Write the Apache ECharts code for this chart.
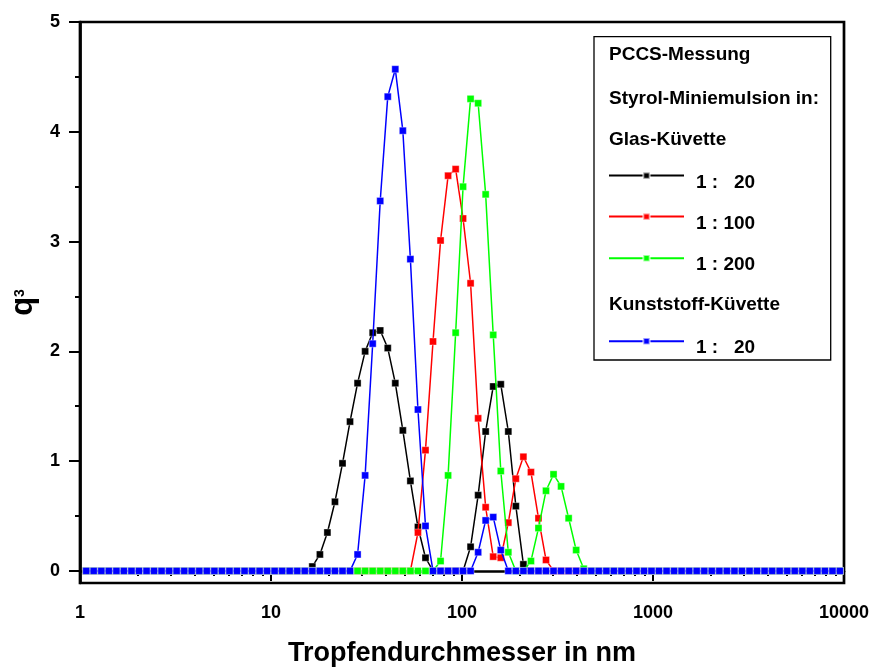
<!DOCTYPE html>
<html><head><meta charset="utf-8">
<script src="https://cdn.jsdelivr.net/npm/echarts@6/dist/echarts.min.js"></script>
<style>html,body{margin:0;padding:0;background:#fff}#c{width:876px;height:668px}</style>
</head><body><div id="c"></div>
<script>
// Size classes (nm) of the PCCS measurement
const diameters = [
  1.078, 1.180, 1.293, 1.416, 1.551, 1.698, 1.860, 2.037, 2.231, 2.443,
  2.674, 2.929, 3.207, 3.513, 3.847, 4.212, 4.615, 5.054, 5.535, 6.062,
  6.634, 7.271, 7.963, 8.721, 9.540, 10.45, 11.44, 12.53, 13.72, 15.03,
  16.46, 18.03, 19.74, 21.62, 23.68, 25.93, 28.40, 31.11, 34.07, 37.31,
  40.86, 44.75, 49.01, 53.68, 58.79, 64.39, 70.51, 77.23, 84.58, 92.63,
  101.3, 110.9, 121.5, 133.0, 145.7, 159.6, 174.8, 191.4, 209.6, 229.6,
  251.4, 275.3, 301.5, 330.2, 361.7, 396.1, 433.8, 475.1, 520.3, 569.9,
  624.1, 683.5, 748.6, 819.8, 897.9, 981.8, 1075, 1178, 1290, 1412,
  1547, 1694, 1855, 2032, 2225, 2437, 2669, 2923, 3202, 3506,
  3840, 4206, 4606, 5044, 5525, 6050, 6626, 7257, 7948, 8704,
  9518
];

// q3 values (non-zero range begins at the given class index; all other classes read 0)
const glas20Start = 30;
const glas20 = [0.04, 0.15, 0.35, 0.63, 0.98, 1.36, 1.71, 2.00, 2.17, 2.19,
                2.03, 1.71, 1.28, 0.82, 0.40, 0.12, 0, 0, 0, 0,
                0, 0.22, 0.69, 1.27, 1.68, 1.70, 1.27, 0.59, 0.06];
const glas100Start = 44;
const glas100 = [0.35, 1.10, 2.09, 3.01, 3.60, 3.66, 3.21, 2.62, 1.39, 0.58,
                 0.13, 0.12, 0.44, 0.84, 1.04, 0.90, 0.48, 0.10];
const glas200Start = 47;
const glas200 = [0.09, 0.87, 2.17, 3.50, 4.30, 4.26, 3.43, 2.15, 0.91, 0.17,
                 0, 0, 0.09, 0.39, 0.73, 0.88, 0.77, 0.48, 0.19, 0.02];
const kunst20Start = 36;
const kunst20 = [0.15, 0.87, 2.07, 3.37, 4.32, 4.57, 4.01, 2.84, 1.47, 0.41,
                 0, 0, 0, 0, 0, 0, 0.17, 0.46, 0.49, 0.19];

const seriesNames = ['g20', 'g100', 'g200', 'k20'];
const legendLabels = ['1 :   20', '1 : 100', '1 : 200', '1 :   20'];
const seriesColors = ['#000000', '#ff0000', '#00ff00', '#0000ff'];

const xTickValues = [1, 10, 100, 1000, 10000];
const xMinorTickValues = [2,3,4,5,6,7,8,9, 20,30,40,50,60,70,80,90,
  200,300,400,500,600,700,800,900, 2000,3000,4000,5000,6000,7000,8000,9000];
const yTickValues = [0, 1, 2, 3, 4, 5];
const yMinorTickValues = [0.5, 1.5, 2.5, 3.5, 4.5];

const headerTexts = ['PCCS-Messung', 'Styrol-Miniemulsion in:', 'Glas-Küvette', 'Kunststoff-Küvette'];

const F = '"Liberation Sans", Arial, sans-serif';

function fullSeries(start, vals) {
  return diameters.map((d, i) => {
    const k = i - start;
    return [d, (k >= 0 && k < vals.length) ? vals[k] : 0];
  });
}
const seriesData = [
  fullSeries(glas20Start, glas20),
  fullSeries(glas100Start, glas100),
  fullSeries(glas200Start, glas200),
  fullSeries(kunst20Start, kunst20)
];

const chart = echarts.init(document.getElementById('c'), null, {renderer: 'canvas'});

const axisCommon = {
  axisLine: {show: true, lineStyle: {color: '#000', width: 2.7}},
  splitLine: {show: false}
};

const legendTops = [159.4, 200.4, 242.0, 325.0];
const legends = seriesNames.map((n, i) => ({
  data: [n],
  left: 608,
  top: legendTops[i],
  orient: 'vertical',
  padding: 0,
  itemWidth: 75,
  itemHeight: 8,
  itemGap: 0,
  selectedMode: false,
  formatter: () => '\n' + legendLabels[i],
  textStyle: {fontSize: 19, fontWeight: 'bold', fontFamily: F, color: '#000', lineHeight: 13.4, padding: [0, 0, 0, 7]}
}));

const headerY = [55, 98.3, 139.3, 305];

const option = {
  animation: false,
  backgroundColor: '#fff',
  grid: {left: 80, right: 32, top: 22, bottom: 85, outerBoundsMode: 'none', containLabel: false,
         show: true, borderColor: '#000', borderWidth: 2.7, backgroundColor: 'transparent'},
  xAxis: [
    Object.assign({}, axisCommon, {
      type: 'log', logBase: 10, min: 1, max: 10000, position: 'bottom',
      axisTick: {show: true, inside: false, length: 10, lineStyle: {width: 2, color: '#000'}, customValues: xTickValues},
      axisLabel: {customValues: xTickValues, formatter: v => String(Math.round(v)), fontSize: 18, fontWeight: 'bold', fontFamily: F, color: '#000', margin: 21},
      name: 'Tropfendurchmesser in nm', nameLocation: 'middle', nameGap: 57,
      nameTextStyle: {fontSize: 27, fontWeight: 'bold', fontFamily: F, color: '#000'}
    }),
    {
      type: 'log', logBase: 10, min: 1, max: 10000, position: 'bottom',
      axisLine: {show: false}, splitLine: {show: false}, axisLabel: {show: false},
      axisTick: {show: true, inside: false, length: 5, lineStyle: {width: 2, color: '#000'}, customValues: xMinorTickValues}
    }
  ],
  yAxis: [
    Object.assign({}, axisCommon, {
      type: 'value', min: -0.11, max: 5, position: 'left',
      axisTick: {show: true, inside: false, length: 11, lineStyle: {width: 2, color: '#000'}, customValues: yTickValues},
      axisLabel: {customValues: yTickValues, fontSize: 18, fontWeight: 'bold', fontFamily: F, color: '#000', margin: 20},
      name: '{q|q}{s|3}', nameLocation: 'middle', nameGap: 39, nameRotate: 90,
      nameTextStyle: {rich: {
        q: {fontSize: 31, fontWeight: 'bold', fontFamily: F, color: '#000', verticalAlign: 'middle'},
        s: {fontSize: 14, fontWeight: 'bold', fontFamily: F, color: '#000', verticalAlign: 'middle', padding: [0, 0, 6, 0]}
      }}
    }),
    {
      type: 'value', min: -0.11, max: 5, position: 'left',
      axisLine: {show: false}, splitLine: {show: false}, axisLabel: {show: false},
      axisTick: {show: true, inside: false, length: 5, lineStyle: {width: 2, color: '#000'}, customValues: yMinorTickValues}
    }
  ],
  legend: legends,
  graphic: [
    {type: 'rect', z: 3, shape: {x: 594, y: 36.7, width: 236.7, height: 323.3}, style: {fill: '#fff', stroke: '#000', lineWidth: 1.3}}
  ].concat(headerTexts.map((t, i) => ({
    type: 'text', z: 5, x: 609, y: headerY[i],
    style: {text: t, font: 'bold 19px ' + F, fill: '#000', verticalAlign: 'middle', align: 'left'}
  }))),
  series: seriesNames.map((n, i) => ({
    name: n,
    type: 'line',
    xAxisIndex: 0, yAxisIndex: 0,
    data: seriesData[i],
    symbol: 'rect', symbolSize: 7, showSymbol: true, showAllSymbol: true,
    lineStyle: {color: seriesColors[i], width: 1.5},
    itemStyle: {color: seriesColors[i], borderColor: 'rgba(255,255,255,0.6)', borderWidth: 0.6},
    emphasis: {disabled: true},
    z: 2 + i * 0.01
  }))
};
chart.setOption(option);
</script>
</body></html>
